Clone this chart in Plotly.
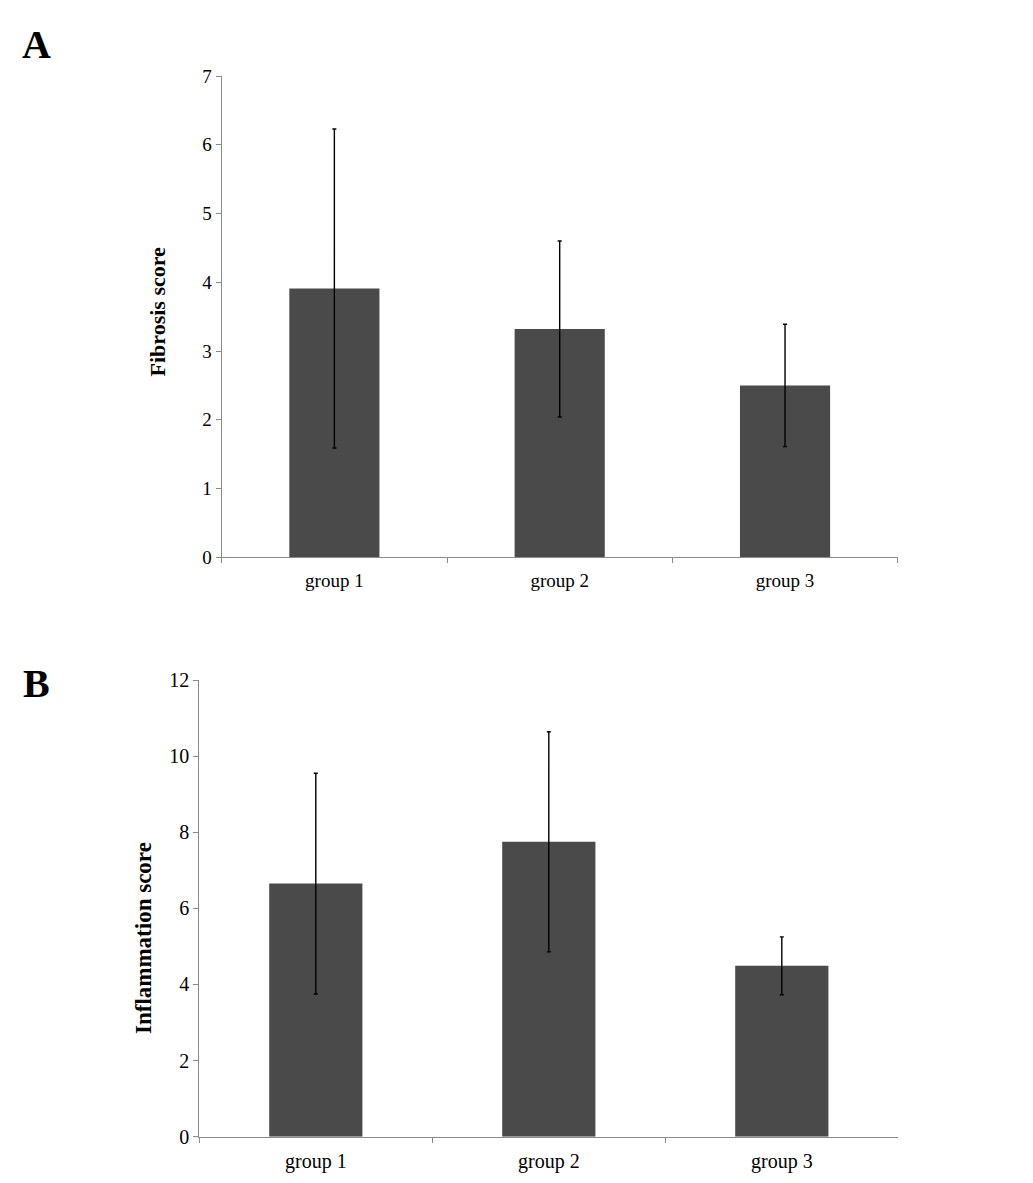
import plotly.graph_objects as go

groups = ["group 1", "group 2", "group 3"]

fibrosis_mean = [3.91, 3.32, 2.50]
fibrosis_err = [2.32, 1.28, 0.89]

inflammation_mean = [6.65, 7.75, 4.49]
inflammation_err = [2.90, 2.89, 0.76]

fib_ticks = [0, 1, 2, 3, 4, 5, 6, 7]
inf_ticks = [0, 2, 4, 6, 8, 10, 12]

BAR = "#4a4a4a"
AXIS = "#8a8a8a"
FONT = "Liberation Serif"

fig = go.Figure()
fig.add_trace(go.Bar(
    x=groups, y=fibrosis_mean, marker=dict(color=BAR, line=dict(width=0)),
    error_y=dict(type="data", array=fibrosis_err, color="black", thickness=1.4, width=2),
    xaxis="x", yaxis="y", showlegend=False))
fig.add_trace(go.Bar(
    x=groups, y=inflammation_mean, marker=dict(color=BAR, line=dict(width=0)),
    error_y=dict(type="data", array=inflammation_err, color="black", thickness=1.4, width=2),
    xaxis="x2", yaxis="y2", showlegend=False))

W, H = 1033, 1183
OFF = 8  # page body margin offset
def fx(px):
    return (px - OFF) / W
def fy(py):
    return 1 - (py - OFF) / H

common_x = dict(showgrid=False, zeroline=False, showline=True, linecolor=AXIS, linewidth=1.2,
                ticks="outside", tickson="boundaries", ticklen=5, tickcolor=AXIS, tickwidth=1,
                range=[-0.5, 2.5], type="category", automargin=False, ticklabelstandoff=6)
common_y = dict(showgrid=False, zeroline=False, showline=True, linecolor=AXIS, linewidth=1.2,
                ticks="outside", ticklen=5, tickcolor=AXIS, tickwidth=1, automargin=False)

fig.update_layout(
    width=W, height=H,
    margin=dict(l=0, r=0, t=0, b=0, autoexpand=False),
    paper_bgcolor="white", plot_bgcolor="white",
    bargap=0.6,
    font=dict(family=FONT, color="black"),
    xaxis=dict(domain=[fx(221.7), fx(897.7)], anchor="y",
               tickfont=dict(size=19, family=FONT), **common_x),
    yaxis=dict(domain=[fy(557.3), fy(76)], anchor="x", range=[0, 7],
               tickvals=fib_ticks, tickfont=dict(size=19, family=FONT), **common_y),
    xaxis2=dict(domain=[fx(199.3), fx(898.3)], anchor="y2",
                tickfont=dict(size=20, family=FONT), **common_x),
    yaxis2=dict(domain=[fy(1136.7), fy(680)], anchor="x2", range=[0, 12],
                tickvals=inf_ticks, tickfont=dict(size=20, family=FONT), **common_y),
    annotations=[
        dict(text="<b>A</b>", x=fx(36), y=fy(44), xref="paper", yref="paper",
             showarrow=False, font=dict(size=40, family=FONT, color="black"),
             xanchor="center", yanchor="middle"),
        dict(text="<b>B</b>", x=fx(36), y=fy(683), xref="paper", yref="paper",
             showarrow=False, font=dict(size=40, family=FONT, color="black"),
             xanchor="center", yanchor="middle"),
        dict(text="<b>Fibrosis score</b>", x=fx(157), y=fy(311.5), xref="paper", yref="paper",
             showarrow=False, textangle=-90, font=dict(size=22, family=FONT, color="black"),
             xanchor="center", yanchor="middle"),
        dict(text="<b>Inflammation score</b>", x=fx(143), y=fy(938), xref="paper", yref="paper",
             showarrow=False, textangle=-90, font=dict(size=23, family=FONT, color="black"),
             xanchor="center", yanchor="middle"),
    ],
)

fig.write_html("out.html")
